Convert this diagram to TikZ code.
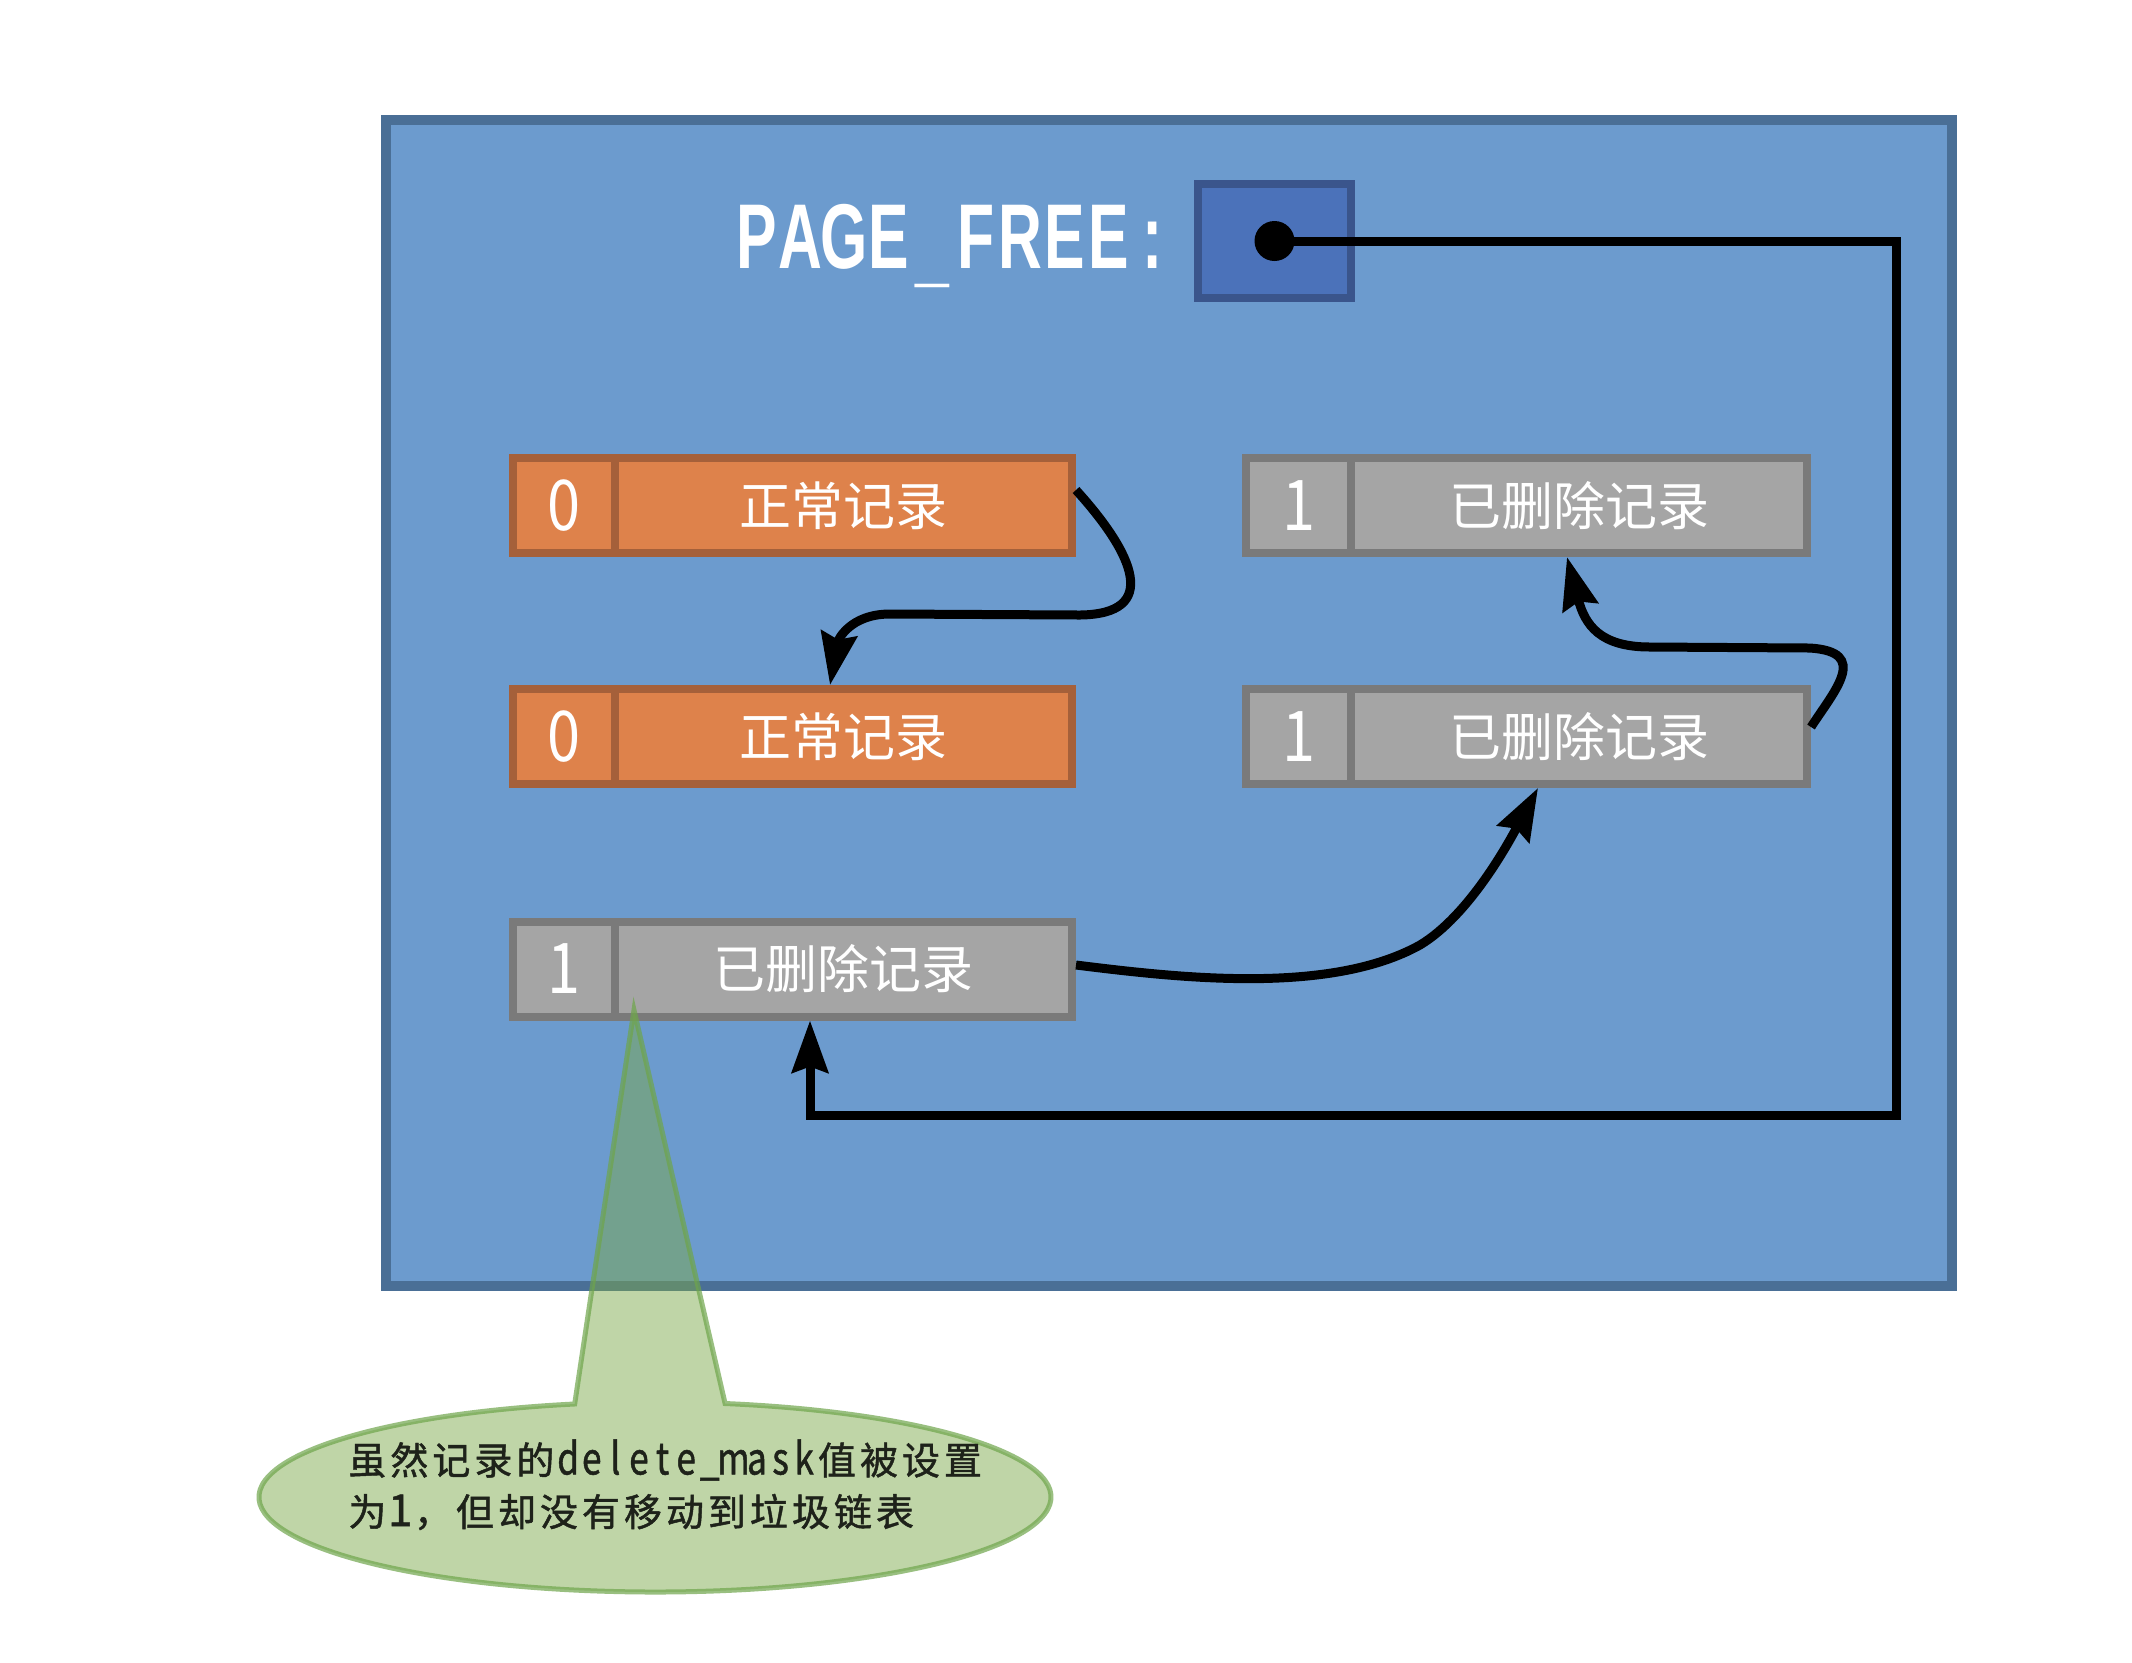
\documentclass[tikz,border=0pt]{standalone}
\usepackage{fontspec}
\usepackage{graphicx}
\setmainfont{Liberation Sans}
\newfontfamily\cjk{Noto Sans CJK SC}
\newfontfamily\cjknote{Noto Sans CJK SC}[FakeBold=1.2]
\usetikzlibrary{arrows.meta}

\definecolor{pageblue}{RGB}{108,155,206}
\definecolor{pageblueline}{RGB}{74,111,150}
\definecolor{ptrfill}{RGB}{75,114,186}
\definecolor{ptrline}{RGB}{58,85,140}
\definecolor{recorange}{RGB}{222,130,75}
\definecolor{recorangeline}{RGB}{165,96,58}
\definecolor{recgray}{RGB}{165,165,165}
\definecolor{recgrayline}{RGB}{122,122,122}
\definecolor{notefill}{RGB}{123,169,73}
\definecolor{noteline}{RGB}{110,165,75}
\definecolor{notetextcol}{RGB}{30,34,26}

\makeatletter
\def\mc@end{\mc@end}
\newcommand\monocells[3]{\def\mc@w{#1}\def\mc@fmt{#2}\mc@loop#3\mc@end}
\def\mc@loop#1{\ifx#1\mc@end\else\makebox[\mc@w]{\mc@fmt{#1}}\expandafter\mc@loop\fi}
\makeatother
\newcommand\recdigit[1]{\scalebox{0.85}[1]{#1}}

\tikzset{
  pagebox/.style={draw=pageblueline, fill=pageblue, line width=5pt, inner sep=0, outer sep=0},
  ptrbox/.style={draw=ptrline, fill=ptrfill, line width=4pt, inner sep=0, outer sep=0},
  cell/.style={line width=4pt, inner sep=0, outer sep=2pt, minimum height=47.5pt, text=white},
  reckey/.style={cell, font=\cjk\fontsize{35pt}{40pt}\selectfont},
  recval/.style={cell, font=\cjk\fontsize{26pt}{30pt}\selectfont},
  orangecell/.style={draw=recorangeline, fill=recorange},
  graycell/.style={draw=recgrayline, fill=recgray},
  leftkey/.style={minimum width=50.75pt},
  leftval/.style={minimum width=228.75pt},
  rightkey/.style={minimum width=52.5pt},
  rightval/.style={minimum width=228pt},
  link/.style={draw=black, line width=4.5pt, -{Stealth[length=26pt,width=18pt,inset=3pt]}},
  notestyle/.style={fill=notefill, fill opacity=0.48, draw=noteline, draw opacity=0.7, line width=2.5pt, line join=miter},
  notetext/.style={anchor=west, inner sep=0, text=notetextcol, font=\cjknote\fontsize{19pt}{22pt}\selectfont},
}

\begin{document}
\begin{tikzpicture}[x=0.5pt, y=0.5pt]
  \fill[white] (0,0) rectangle (2132,-1662);
  \useasboundingbox (0,0) rectangle (2132,-1662);

  % page
  \node[pagebox, minimum width=783pt, minimum height=583pt] (page) at (1169,-703) {};

  % PAGE_FREE label and pointer box
  \node[anchor=base west, inner sep=0, text=white, font=\fontsize{46pt}{52pt}\selectfont\bfseries] (pflabel) at (734,-268)
    {\monocells{22pt}{\scalebox{0.66}[1]}{PAGE}\makebox[22pt]{\raisebox{-4pt}{\scalebox{0.66}[1]{\_}}}\monocells{22pt}{\scalebox{0.66}[1]}{FREE:}};
  \node[ptrbox, minimum width=76.5pt, minimum height=57pt] (ptr) at (1274.5,-241) {};
  \node[circle, fill=black, minimum size=20pt, inner sep=0] (dot) at (ptr.center) {};

  % records, left column
  \node[reckey, orangecell, leftkey] (r1k) at (563.75,-505.5) {\recdigit{0}};
  \node[recval, orangecell, leftval] (r1v) at (843.25,-505.5) {正常记录};
  \node[reckey, orangecell, leftkey] (r2k) at (563.75,-736.5) {\recdigit{0}};
  \node[recval, orangecell, leftval] (r2v) at (843.25,-736.5) {正常记录};
  \node[reckey, graycell, leftkey] (r3k) at (563.75,-969) {\recdigit{1}};
  \node[recval, graycell, leftval] (r3v) at (843.25,-969) {已删除记录};

  % records, right column
  \node[reckey, graycell, rightkey] (r4k) at (1298.5,-505.5) {\recdigit{1}};
  \node[recval, graycell, rightval] (r4v) at (1579,-505.5) {已删除记录};
  \node[reckey, graycell, rightkey] (r5k) at (1298.5,-736.5) {\recdigit{1}};
  \node[recval, graycell, rightval] (r5v) at (1579,-736.5) {已删除记录};

  % PAGE_FREE pointer route
  \coordinate (turnA) at (1896,-241);
  \coordinate (turnB) at (1896,-1115);
  \coordinate (turnC) at (810,-1115);
  \draw[link] (dot.center) -- (turnA) -- (turnB) -- (turnC) -- (turnC |- r3v.south);

  % normal record chain
  \draw[link] ([yshift=7.75pt]r1v.east) .. controls (1135,-555) and (1160,-614) .. (1080,-615)
     -- (890,-614) .. controls (850,-614) and (838,-640) .. ([xshift=-6.6pt]r2v.north);

  % deleted record chain
  \draw[link] ([yshift=2pt]r3v.east) .. controls (1180,-978) and (1330,-995) .. (1420,-945)
     .. controls (1470,-915) and (1510,-840) .. ([xshift=-20.5pt]r5v.south);
  \draw[link] ([yshift=4.75pt]r5v.east) .. controls (1835,-690) and (1870,-652) .. (1810,-648)
     -- (1650,-647) .. controls (1600,-647) and (1585,-625) .. ([xshift=-6pt]r4v.south);

  % callout
  \path[notestyle] (634,-1010) -- (725.1,-1403.5)
     arc[start angle=79.8, end angle=-258.3, x radius=396, y radius=95] -- cycle;
  \node[notetext] (note1) at (346,-1460)
    {\monocells{21pt}{}{虽然记录的}\monocells{11.8pt}{\fontsize{22pt}{24pt}\selectfont\scalebox{0.8}[1]}{delete\_mask}\monocells{21pt}{}{值被设置}};
  \node[notetext] (note2) at (346,-1512)
    {\monocells{21pt}{}{为}\monocells{11.8pt}{\fontsize{22pt}{24pt}\selectfont}{1}\monocells{21pt}{}{，但却没有移动到垃圾链表}};
\end{tikzpicture}
\end{document}
